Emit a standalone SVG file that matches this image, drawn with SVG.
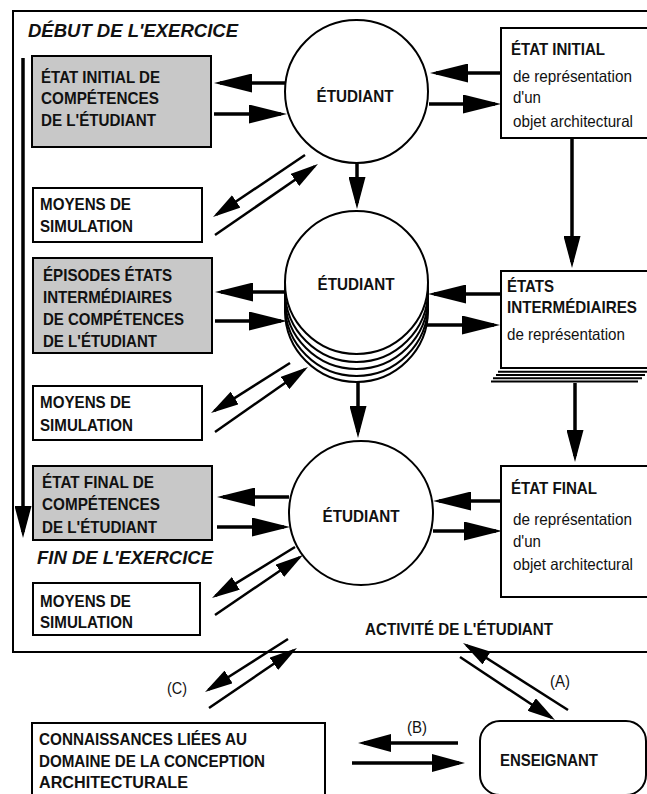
<svg xmlns="http://www.w3.org/2000/svg" width="647" height="794" viewBox="0 0 647 794">
<defs>
<style>
.bx{fill:#fff;stroke:#000;stroke-width:2}
.gr{fill:#c8c8c8;stroke:#000;stroke-width:2}
.ci{fill:#fff;stroke:#000;stroke-width:2}
.fr{fill:none;stroke:#000;stroke-width:2}
.ln{fill:none;stroke:#000;stroke-width:2}
.b{font-family:"Liberation Sans",Arial,Helvetica,sans-serif;font-weight:bold;font-size:16.5px;fill:#111}
.r{font-family:"Liberation Sans",Arial,Helvetica,sans-serif;font-size:16.5px;fill:#111}
.i{font-family:"Liberation Sans",Arial,Helvetica,sans-serif;font-weight:bold;font-style:italic;font-size:18px;fill:#111}
.c{text-anchor:middle}
.th{fill:none;stroke:#000;stroke-width:3.5}
.tn{fill:none;stroke:#000;stroke-width:2.5}
</style>
<marker id="ah" markerUnits="userSpaceOnUse" viewBox="0 0 38 19" markerWidth="38" markerHeight="19" refX="32" refY="9.5" orient="auto"><path d="M0,0L38,9.5L0,19z"/></marker>
<marker id="av" markerUnits="userSpaceOnUse" viewBox="0 0 32 17" markerWidth="32" markerHeight="17" refX="26" refY="8.5" orient="auto"><path d="M0,0L32,8.5L0,17z"/></marker>
<marker id="ab" markerUnits="userSpaceOnUse" viewBox="0 0 33 18" markerWidth="33" markerHeight="18" refX="27" refY="9" orient="auto"><path d="M0,0L33,9L0,18z"/></marker>
<marker id="ad" markerUnits="userSpaceOnUse" viewBox="0 0 28 15" markerWidth="28" markerHeight="15" refX="24" refY="7.5" orient="auto"><path d="M0,0L28,7.5L0,15z"/></marker>
</defs>

<g id="frame">
<rect class="fr" x="13" y="11" width="700" height="641"/>
<text class="i" x="28" y="37" textLength="210" lengthAdjust="spacingAndGlyphs">DÉBUT DE L'EXERCICE</text>
<text class="i" x="37" y="564" textLength="176" lengthAdjust="spacingAndGlyphs">FIN DE L'EXERCICE</text>
<text class="b" x="365" y="635" textLength="188" lengthAdjust="spacingAndGlyphs">ACTIVITÉ DE L'ÉTUDIANT</text>
</g>

<g id="gray1">
<rect class="gr" x="32" y="56" width="179" height="91"/>
<text class="b" x="41" y="83" textLength="119" lengthAdjust="spacingAndGlyphs">ÉTAT INITIAL DE</text>
<text class="b" x="41" y="104" textLength="118" lengthAdjust="spacingAndGlyphs">COMPÉTENCES</text>
<text class="b" x="41" y="126" textLength="115" lengthAdjust="spacingAndGlyphs">DE L'ÉTUDIANT</text>
</g>
<g id="moyens1">
<rect class="bx" x="33" y="188" width="169" height="54"/>
<text class="b" x="40" y="210" textLength="91" lengthAdjust="spacingAndGlyphs">MOYENS DE</text>
<text class="b" x="40" y="232" textLength="93" lengthAdjust="spacingAndGlyphs">SIMULATION</text>
</g>
<g id="gray2">
<rect class="gr" x="33" y="258" width="179" height="95"/>
<text class="b" x="43" y="281" textLength="129" lengthAdjust="spacingAndGlyphs">ÉPISODES ÉTATS</text>
<text class="b" x="43" y="303" textLength="129" lengthAdjust="spacingAndGlyphs">INTERMÉDIAIRES</text>
<text class="b" x="43" y="325" textLength="141" lengthAdjust="spacingAndGlyphs">DE COMPÉTENCES</text>
<text class="b" x="43" y="347" textLength="114" lengthAdjust="spacingAndGlyphs">DE L'ÉTUDIANT</text>
</g>
<g id="moyens2">
<rect class="bx" x="33" y="386" width="169" height="54"/>
<text class="b" x="40" y="408" textLength="91" lengthAdjust="spacingAndGlyphs">MOYENS DE</text>
<text class="b" x="40" y="431" textLength="93" lengthAdjust="spacingAndGlyphs">SIMULATION</text>
</g>
<g id="gray3">
<rect class="gr" x="33" y="466" width="179" height="74"/>
<text class="b" x="42" y="488" textLength="112" lengthAdjust="spacingAndGlyphs">ÉTAT FINAL DE</text>
<text class="b" x="42" y="510" textLength="118" lengthAdjust="spacingAndGlyphs">COMPÉTENCES</text>
<text class="b" x="42" y="533" textLength="115" lengthAdjust="spacingAndGlyphs">DE L'ÉTUDIANT</text>
</g>
<g id="moyens3">
<rect class="bx" x="33" y="583" width="167" height="52"/>
<text class="b" x="40" y="607" textLength="91" lengthAdjust="spacingAndGlyphs">MOYENS DE</text>
<text class="b" x="40" y="628" textLength="93" lengthAdjust="spacingAndGlyphs">SIMULATION</text>
</g>

<g id="etudiant1">
<circle class="ci" cx="356.5" cy="91.5" r="71.5"/>
<text class="b c" x="355" y="102" textLength="77" lengthAdjust="spacingAndGlyphs">ÉTUDIANT</text>
</g>
<g id="etudiant2">
<circle class="ci" cx="356.5" cy="310.5" r="71.5"/>
<circle class="ci" cx="356.5" cy="304.5" r="71.5"/>
<circle class="ci" cx="356.5" cy="297.5" r="71.5"/>
<circle class="ci" cx="356.5" cy="290.5" r="71.5"/>
<circle class="ci" cx="356.5" cy="282.5" r="71.5"/>
<text class="b c" x="356" y="290" textLength="77" lengthAdjust="spacingAndGlyphs">ÉTUDIANT</text>
</g>
<g id="etudiant3">
<circle class="ci" cx="361" cy="513" r="72"/>
<text class="b c" x="361" y="522" textLength="77" lengthAdjust="spacingAndGlyphs">ÉTUDIANT</text>
</g>

<g id="etat-initial">
<rect class="bx" x="501" y="28" width="200" height="110"/>
<text class="b" x="511" y="55" textLength="94" lengthAdjust="spacingAndGlyphs">ÉTAT INITIAL</text>
<text class="r" x="513" y="82" textLength="119" lengthAdjust="spacingAndGlyphs">de représentation</text>
<text class="r" x="513" y="103" textLength="28" lengthAdjust="spacingAndGlyphs">d'un</text>
<text class="r" x="513" y="127" textLength="120" lengthAdjust="spacingAndGlyphs">objet architectural</text>
</g>
<g id="etats-intermediaires">
<line class="ln" x1="491" y1="381.5" x2="638" y2="381.5"/>
<line class="ln" x1="493" y1="378.3" x2="642" y2="378.3"/>
<line class="ln" x1="496" y1="375" x2="645" y2="375"/>
<line class="ln" x1="498" y1="371.7" x2="647" y2="371.7"/>
<rect class="bx" x="501" y="271" width="200" height="97"/>
<text class="b" x="507" y="292" textLength="47" lengthAdjust="spacingAndGlyphs">ÉTATS</text>
<text class="b" x="507" y="313" textLength="130" lengthAdjust="spacingAndGlyphs">INTERMÉDIAIRES</text>
<text class="r" x="507" y="340" textLength="118" lengthAdjust="spacingAndGlyphs">de représentation</text>
</g>
<g id="etat-final">
<rect class="bx" x="501" y="466" width="200" height="131"/>
<text class="b" x="511" y="494" textLength="86" lengthAdjust="spacingAndGlyphs">ÉTAT FINAL</text>
<text class="r" x="513" y="525" textLength="119" lengthAdjust="spacingAndGlyphs">de représentation</text>
<text class="r" x="513" y="547" textLength="28" lengthAdjust="spacingAndGlyphs">d'un</text>
<text class="r" x="513" y="570" textLength="120" lengthAdjust="spacingAndGlyphs">objet architectural</text>
</g>

<g id="connaissances">
<rect class="bx" x="32" y="723" width="293" height="90"/>
<text class="b" x="39" y="745" textLength="208" lengthAdjust="spacingAndGlyphs">CONNAISSANCES LIÉES AU</text>
<text class="b" x="39" y="767" textLength="226" lengthAdjust="spacingAndGlyphs">DOMAINE DE LA CONCEPTION</text>
<text class="b" x="39" y="788" textLength="149" lengthAdjust="spacingAndGlyphs">ARCHITECTURALE</text>
</g>
<g id="enseignant">
<rect class="bx" x="480" y="721" width="166" height="74" rx="20"/>
<text class="b" x="500" y="766" textLength="98" lengthAdjust="spacingAndGlyphs">ENSEIGNANT</text>
</g>

<g id="connectors">
<line class="th" x1="285" y1="83" x2="220" y2="83" marker-end="url(#ah)"/>
<line class="th" x1="214" y1="114" x2="281" y2="114" marker-end="url(#ah)"/>
<line class="th" x1="501" y1="73" x2="436" y2="73" marker-end="url(#ah)"/>
<line class="th" x1="429" y1="104" x2="495" y2="104" marker-end="url(#ah)"/>
<line class="th" x1="286" y1="292" x2="221" y2="292" marker-end="url(#ah)"/>
<line class="th" x1="215" y1="321" x2="281" y2="321" marker-end="url(#ah)"/>
<line class="th" x1="501" y1="294" x2="434" y2="294" marker-end="url(#ah)"/>
<line class="th" x1="427" y1="325" x2="494" y2="325" marker-end="url(#ah)"/>
<line class="th" x1="289" y1="497" x2="223" y2="497" marker-end="url(#ah)"/>
<line class="th" x1="217" y1="527" x2="284" y2="527" marker-end="url(#ah)"/>
<line class="th" x1="501" y1="501" x2="439" y2="501" marker-end="url(#ah)"/>
<line class="th" x1="433" y1="531" x2="496" y2="531" marker-end="url(#ah)"/>

<line class="th" x1="357" y1="163" x2="357" y2="203" marker-end="url(#av)"/>
<line class="th" x1="572" y1="138" x2="572" y2="262" marker-end="url(#av)"/>
<line class="th" x1="358" y1="382" x2="358" y2="432" marker-end="url(#av)"/>
<line class="th" x1="575" y1="383" x2="575" y2="456" marker-end="url(#av)"/>
<line class="th" x1="23" y1="58" x2="23" y2="532" marker-end="url(#av)"/>

<line class="tn" x1="305" y1="155" x2="216.3" y2="214.8" marker-end="url(#ad)"/>
<line class="tn" x1="215" y1="235" x2="314.7" y2="166.3" marker-end="url(#ad)"/>
<line class="tn" x1="290" y1="363" x2="214.4" y2="410.9" marker-end="url(#ad)"/>
<line class="tn" x1="215" y1="432" x2="304.7" y2="369.3" marker-end="url(#ad)"/>
<line class="tn" x1="295" y1="547" x2="215.4" y2="595.9" marker-end="url(#ad)"/>
<line class="tn" x1="215" y1="615" x2="299.7" y2="557.3" marker-end="url(#ad)"/>
<line class="tn" x1="288" y1="639" x2="208.4" y2="689.8" marker-end="url(#ad)"/>
<line class="tn" x1="209" y1="708" x2="293.7" y2="650.3" marker-end="url(#ad)"/>
<line class="tn" x1="568" y1="710" x2="466.4" y2="645.2" marker-end="url(#ad)"/>
<line class="tn" x1="460" y1="657" x2="551.7" y2="717.8" marker-end="url(#ad)"/>

<line class="th" x1="458" y1="743" x2="364" y2="743" marker-end="url(#ab)"/>
<line class="th" x1="352" y1="763" x2="459" y2="763" marker-end="url(#ab)"/>

<text class="r" x="167" y="694" textLength="20" lengthAdjust="spacingAndGlyphs">(C)</text>
<text class="r" x="550" y="687" textLength="20" lengthAdjust="spacingAndGlyphs">(A)</text>
<text class="r" x="407" y="733" textLength="20" lengthAdjust="spacingAndGlyphs">(B)</text>
</g>
</svg>
